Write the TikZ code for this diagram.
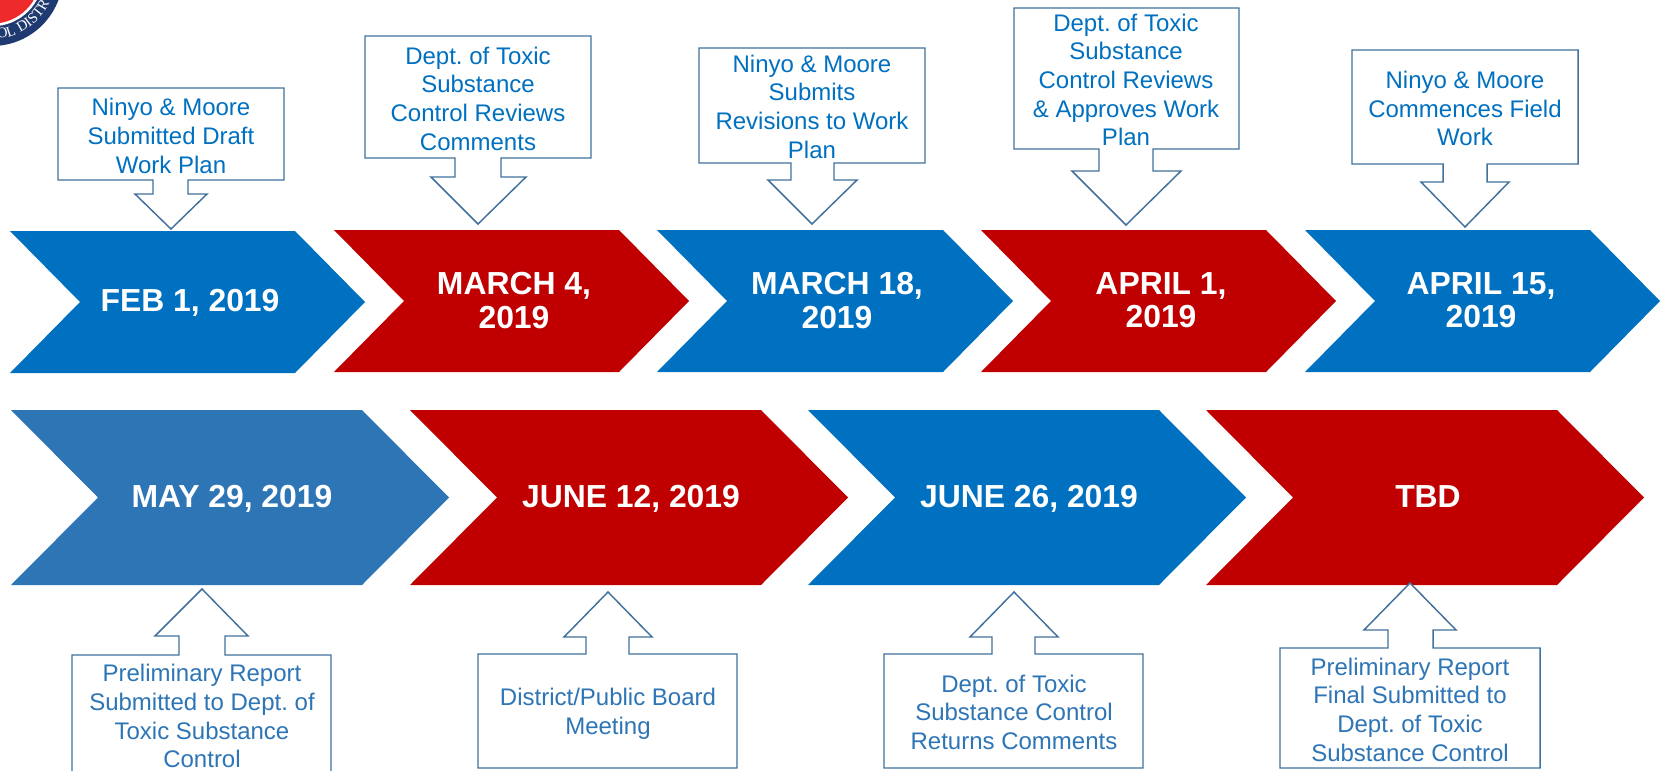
\documentclass[tikz,border=0pt]{standalone}
\usepackage{fontspec}
\setmainfont{Liberation Sans}
\newfontfamily\sealfont{Liberation Serif}
\usetikzlibrary{decorations.text}
\definecolor{cblue}{HTML}{0070C0}
\definecolor{cred}{HTML}{C00000}
\definecolor{csteel}{HTML}{2E75B6}
\definecolor{cline}{HTML}{41719C}
\definecolor{cnavy}{HTML}{1F3A70}
\definecolor{csealred}{HTML}{EE2A2A}
\frenchspacing
\tikzset{
  calloutshape/.style={draw=cline,fill=white,line width=1.1pt,line join=miter},
  toptext/.style={text=cblue,font=\fontsize{18}{21.5}\selectfont\frenchspacing,align=center,inner sep=0pt,yshift=-3.2pt,
    execute at begin node=\strut,execute at end node=\strut},
  bottext/.style={toptext,text=csteel},
  datetext/.style={text=white,font=\bfseries\fontsize{23.9}{25.2}\selectfont,align=center,inner sep=0pt,yshift=-3.2pt,
    execute at begin node=\strut,execute at end node=\strut},
}
% \chevronshape{colour}{left}{shoulder}{tip}{slant}{top}{bottom}
\newcommand{\chevronshape}[7]{%
  \fill[#1] (#2,#6) -- (#3,#6) -- (#4,{(#6+#7)/2}) -- (#3,#7) -- (#2,#7) -- ({#2+#5},{(#6+#7)/2}) -- cycle;}
\begin{document}
\begin{tikzpicture}[x=0.75pt,y=-0.75pt]
\clip (0,0) rectangle (1660,771);
\fill[white] (0,0) rectangle (1660,771);
% seal
\begin{scope}[shift={(-8,-25)},x=1pt,y=1pt]
  \fill[cnavy] (0,0) circle (53.25pt);
  \fill[white] (0,0) circle (38.5pt);
  \fill[csealred] (0,0) circle (36.5pt);
  \path[decorate,decoration={text along path,text align=center,
     text={|\sealfont\fontsize{11}{11}\selectfont\color{white}|OL DISTR}}]
     (-86:48pt) arc[start angle=-86,end angle=-25,radius=48pt];
\end{scope}
% top row
\chevronshape{cblue}{10}{295}{365}{70}{231}{373}
\chevronshape{cred}{334}{619}{689}{70}{230}{372}
\chevronshape{cblue}{657}{943}{1013}{70}{230}{372}
\chevronshape{cred}{981}{1266}{1336}{70}{230}{372}
\chevronshape{cblue}{1305}{1590}{1660}{70}{230}{372}
% bottom row
\chevronshape{csteel}{11}{362}{449}{87}{410}{585}
\chevronshape{cred}{410}{761}{848}{87}{410}{585}
\chevronshape{cblue}{808}{1159}{1246}{87}{410}{585}
\chevronshape{cred}{1206}{1557}{1644}{87}{410}{585}
% date labels
\node[datetext] (d1) at (190,301) {FEB 1, 2019};
\node[datetext] (d2) at (514,301) {MARCH 4,\\2019};
\node[datetext] (d3) at (837,301) {MARCH 18,\\2019};
\node[datetext] (d4) at (1161,301) {APRIL 1,\\2019};
\node[datetext] (d5) at (1481,301) {APRIL 15,\\2019};
\node[datetext] (d6) at (232,497) {MAY 29, 2019};
\node[datetext] (d7) at (631,497) {JUNE 12, 2019};
\node[datetext] (d8) at (1029,497) {JUNE 26, 2019};
\node[datetext] (d9) at (1428,497) {TBD};
% callouts above
\path[calloutshape] (58,180) -- (153,180) -- (153,194) -- (135,194) -- (171,229) -- (207,194) -- (188,194) -- (188,180) -- (284,180) -- (284,88) -- (58,88) -- cycle;
\path[calloutshape] (365,158) -- (455,158) -- (455,177) -- (431,177) -- (478,224) -- (526,177) -- (501,177) -- (501,158) -- (591,158) -- (591,36) -- (365,36) -- cycle;
\path[calloutshape] (699,163) -- (791,163) -- (791,180) -- (768,180) -- (812,224) -- (857,180) -- (834,180) -- (834,163) -- (925,163) -- (925,48) -- (699,48) -- cycle;
\path[calloutshape] (1014,149) -- (1099,149) -- (1099,171) -- (1072,171) -- (1126,225) -- (1181,171) -- (1153,171) -- (1153,149) -- (1239,149) -- (1239,8) -- (1014,8) -- cycle;
\path[calloutshape] (1352,164) -- (1443,164) -- (1443,182) -- (1421,182) -- (1465,227) -- (1509,182) -- (1487,182) -- (1487,164) -- (1578,164) -- (1578,50) -- (1352,50) -- cycle;
% callouts below
\path[calloutshape] (72,655) -- (179,655) -- (179,636) -- (155,636) -- (202,589) -- (248,636) -- (225,636) -- (225,655) -- (331,655) -- (331,800) -- (72,800) -- cycle;
\path[calloutshape] (478,654) -- (586,654) -- (586,637) -- (564,637) -- (608,592) -- (652,637) -- (629,637) -- (629,654) -- (737,654) -- (737,768) -- (478,768) -- cycle;
\path[calloutshape] (884,654) -- (992,654) -- (992,637) -- (970,637) -- (1014,592) -- (1058,637) -- (1035,637) -- (1035,654) -- (1143,654) -- (1143,768) -- (884,768) -- cycle;
\path[calloutshape] (1280,648) -- (1388,648) -- (1388,630) -- (1364,630) -- (1410,583) -- (1456,630) -- (1433,630) -- (1433,648) -- (1540,648) -- (1540,768) -- (1280,768) -- cycle;
% callout text
\node[toptext] (t1) at (171,136) {Ninyo \& Moore\\Submitted Draft\\Work Plan};
\node[toptext] (t2) at (478,98.5) {Dept. of Toxic\\Substance\\Control Reviews\\Comments};
\node[toptext] (t3) at (812,106.5) {Ninyo \& Moore\\Submits\\Revisions to Work\\Plan};
\node[toptext] (t4) at (1126,80) {Dept. of Toxic\\Substance\\Control Reviews\\\& Approves Work\\Plan};
\node[toptext] (t5) at (1465,108.5) {Ninyo \& Moore\\Commences Field\\Work};
\node[bottext] (t6) at (202,716) {Preliminary Report\\Submitted to Dept. of\\Toxic Substance\\Control};
\node[bottext] (t7) at (608,711.5) {District/Public Board\\Meeting};
\node[bottext] (t8) at (1014,712) {Dept. of Toxic\\Substance Control\\Returns Comments};
\node[bottext] (t9) at (1410,709.5) {Preliminary Report\\Final Submitted to\\Dept. of Toxic\\Substance Control};
\end{tikzpicture}
\end{document}
